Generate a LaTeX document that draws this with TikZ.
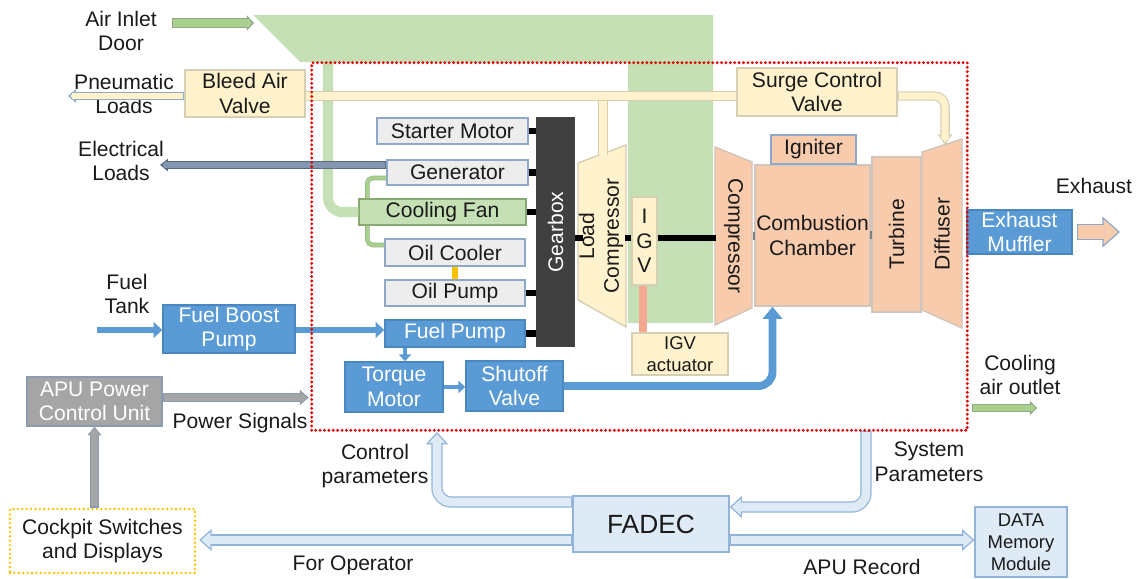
\documentclass[tikz,border=0pt]{standalone}
\usepackage{fontspec}
\setmainfont{Liberation Sans}
\usetikzlibrary{arrows.meta}

\definecolor{txt}{HTML}{1A1A1A}
\definecolor{airgreen}{HTML}{C5E0B4}
\definecolor{fangreen}{HTML}{A9D18E}
\definecolor{bleedyel}{HTML}{FFF2CC}
\definecolor{bleededge}{HTML}{D6CFB4}
\definecolor{partgray}{HTML}{EDEDED}
\definecolor{partedge}{HTML}{8EA9C8}
\definecolor{fuelblue}{HTML}{5B9BD5}
\definecolor{fueledge}{HTML}{4A86BF}
\definecolor{hotpeach}{HTML}{F8CBAD}
\definecolor{peachedge}{HTML}{D0C4BC}
\definecolor{gearblack}{HTML}{404040}
\definecolor{apugray}{HTML}{A5A5A5}
\definecolor{apuedge}{HTML}{8C9BAE}
\definecolor{fadecblue}{HTML}{DEEBF7}
\definecolor{fadecedge}{HTML}{92B4D8}
\definecolor{elecgray}{HTML}{8497B0}
\definecolor{igvred}{HTML}{F4A890}
\definecolor{oilorange}{HTML}{FFC000}
\definecolor{apured}{HTML}{E00000}

\newcommand{\apufont}{\fontsize{12}{14}\selectfont}
\newcommand{\apusmall}{\fontsize{10.5}{12.5}\selectfont}

\tikzset{
    part/.style={draw=partedge,fill=partgray,line width=0.8pt,text=txt,inner sep=0pt,align=center,font=\apufont},
    fuelbox/.style={part,draw=fueledge,fill=fuelblue,text=white},
    yelbox/.style={part,draw=bleededge,fill=bleedyel},
    hotbox/.style={part,draw=peachedge,fill=hotpeach},
    txtlabel/.style={text=txt,align=center,font=\apufont,inner sep=0pt},
    shaft/.style={black,line width=3.5pt},
    pipe/.style={draw=bleededge,double=bleedyel,double distance=4pt,line width=0.6pt},
    greenlink/.style={draw=fangreen!60!gray,double=fangreen,double distance=1.8pt,line width=0.4pt,rounded corners=3pt},
    fuel/.style={fuelblue,line width=3.5pt,-{Triangle[length=5pt,width=9pt]}},
    flow/.style n args={5}{draw=#1,line width=#3,shorten >=0.5*#5,shorten <=0.7pt,
        preaction={draw=#2,line width=#3+1.4pt,shorten >=0pt,shorten <=0pt,
        -{Triangle[length=#5,width=#4,line width=0.7pt,fill=#1]}}},
    bigflow/.style={flow={fadecblue}{fadecedge}{5pt}{12.5pt}{7pt}},
    reddot/.style={draw=apured,line width=1.8pt,line cap=round,dash pattern=on 0pt off 2.5pt}
}

\begin{document}
\begin{tikzpicture}[x=0.02cm,y=-0.02cm]
    \useasboundingbox (0,0) rectangle (1138,578);
    \fill[airgreen] (253,15) -- (713,15) -- (713,323) -- (628,323) -- (628,62) -- (300,62) -- cycle;
    \node[minimum width=13.1cm,minimum height=7.34cm](CORE) at (639.5,246.5){};

    \node[yelbox,minimum width=2.4cm,minimum height=0.94cm](BAV) at (245,93.5){Bleed Air\\Valve};
    \node[yelbox,minimum width=3.2cm,minimum height=0.96cm](SCV) at (817,92){Surge Control\\Valve};
    \node[part,minimum width=3.02cm,minimum height=0.52cm](SM) at (452.5,131){Starter Motor};
    \node[part,minimum width=2.82cm,minimum height=0.5cm](GEN) at (457.5,172.5){Generator};
    \node[part,draw=fangreen!80!black,fill=airgreen,minimum width=3.34cm,minimum height=0.52cm](CF) at (442.5,212){Cooling Fan};
    \node[part,minimum width=2.8cm,minimum height=0.54cm](OC) at (455,252.5){Oil Cooler};
    \node[part,minimum width=2.8cm,minimum height=0.52cm](OP) at (455,293){Oil Pump};
    \node[fuelbox,minimum width=2.8cm,minimum height=0.54cm](FP) at (455,333.5){Fuel Pump};
    \node[part,draw=gearblack,fill=gearblack,text=white,minimum width=0.74cm,minimum height=4.56cm](GB) at (555.5,232){\rotatebox{90}{Gearbox}};

    \filldraw[fill=bleedyel,draw=bleededge,line width=0.8pt] (578,163) -- (626,145) -- (626,327) -- (578,300) -- cycle;
    \node[txtlabel,rotate=90](LC) at (601,236){Load\\Compressor};
    \node[yelbox,minimum width=0.5cm,minimum height=1.76cm](IGV) at (644.5,241){I\\G\\V};
    \node[yelbox,font=\apusmall,minimum width=1.92cm,minimum height=0.84cm](IGVA) at (680,354){IGV\\actuator};

    \filldraw[fill=hotpeach,draw=peachedge,line width=0.8pt] (715,147) -- (752,162) -- (752,308) -- (715,325) -- cycle;
    \node[txtlabel,rotate=-90](CP) at (733.5,236){Compressor};
    \node[hotbox,minimum width=2.3cm,minimum height=2.82cm](CC) at (812.5,235.5){Combustion\\Chamber};
    \node[hotbox,draw=partedge,minimum width=1.7cm,minimum height=0.58cm](IG) at (813.5,149.5){Igniter};
    \node[hotbox,minimum width=0.98cm,minimum height=3.1cm](TB) at (896.5,234.5){\rotatebox{90}{Turbine}};
    \filldraw[fill=hotpeach,draw=peachedge,line width=0.8pt] (922,152) -- (962,139) -- (962,328) -- (922,310) -- cycle;
    \node[txtlabel,rotate=90](DF) at (942,234){Diffuser};
    \node[fuelbox,minimum width=2.1cm,minimum height=0.88cm](EM) at (1019.5,232){Exhaust\\Muffler};

    \node[fuelbox,minimum width=2.64cm,minimum height=0.96cm](FBP) at (229,329){Fuel Boost\\Pump};
    \node[fuelbox,minimum width=1.96cm,minimum height=1cm](TM) at (394,387){Torque\\Motor};
    \node[fuelbox,minimum width=1.94cm,minimum height=1cm](SV) at (514.5,386){Shutoff\\Valve};
    \node[part,draw=apuedge,fill=apugray,text=white,minimum width=2.7cm,minimum height=0.98cm](PCU) at (94.5,401.5){APU Power\\Control Unit};
    \node[txtlabel,draw=oilorange,line width=1.5pt,line cap=round,dash pattern=on 0pt off 2.5pt,minimum width=3.7cm,minimum height=1.28cm](CK) at (102.5,541){Cockpit Switches\\and Displays};
    \node[part,draw=fadecedge,fill=fadecblue,font=\fontsize{15}{18}\selectfont,minimum width=3.12cm,minimum height=1.12cm](FADEC) at (651,524){FADEC};
    \node[part,draw=fadecedge,fill=fadecblue,font=\apusmall,minimum width=1.84cm,minimum height=1.4cm](DMM) at (1021,542){DATA\\Memory\\Module};

    \node[txtlabel](AIR) at (121,31){Air Inlet\\Door};
    \node[txtlabel](PNEU) at (124,94){Pneumatic\\Loads};
    \node[txtlabel](ELEC) at (121,161){Electrical\\Loads};
    \node[txtlabel](TANK) at (127,294){Fuel\\Tank};
    \node[txtlabel](PWR) at (240,423){Power Signals};
    \node[txtlabel](CTRL) at (375,466){Control\\parameters};
    \node[txtlabel](OPR) at (353,565){For Operator};
    \node[txtlabel](REC) at (862,567){APU Record};
    \node[txtlabel](SYS) at (929,462){System\\Parameters};
    \node[txtlabel](COOL) at (1020,375){Cooling\\air outlet};
    \node[txtlabel](EXH) at (1094,186){Exhaust};

    \coordinate (DUCT) at (328,60);
    \coordinate (BLEED) at (603,96);
    \coordinate (LCT) at (603,155);
    \coordinate (DTOP) at (945,145);
    \coordinate (PNL) at (68,96);
    \coordinate (ELL) at (160,165);
    \coordinate (AIN) at (172,23);
    \coordinate (AOUT) at (254,23);
    \coordinate (COIN) at (972,408);
    \coordinate (COOUT) at (1037,408);
    \coordinate (EXO) at (1120,232);
    \coordinate (TK) at (97,330);
    \coordinate (LCW) at (583,238);
    \coordinate (LCE) at (625,238);
    \coordinate (CPW) at (716,238);
    \coordinate (CTL) at (437,432);
    \coordinate (SYSP) at (866,431);

    \draw[airgreen,line width=5.7pt,rounded corners=8pt](DUCT) |- (CF.west);
    \draw[greenlink]([yshift=-0.11cm]GEN.west) -| ([xshift=0.18cm]CF.north west);
    \draw[greenlink]([xshift=0.18cm]CF.south west) |- ([yshift=0.15cm]OC.west);
    \draw[pipe]([yshift=-0.08cm]BLEED) -- (LCT);
    \draw[pipe](BAV.east |- BLEED) -- (SCV.west |- BLEED);
    \draw[flow={bleedyel}{bleededge}{4pt}{8pt}{6pt},rounded corners=6pt](SCV.east |- BLEED) -| (DTOP);
    \draw[flow={bleedyel}{partedge}{3.5pt}{7.5pt}{4.5pt}](BAV.west |- PNL) -- (PNL);
    \draw[flow={elecgray}{elecgray!70!black}{3pt}{7pt}{4.5pt}](GEN.west |- ELL) -- (ELL);
    \draw[flow={fangreen}{fangreen!50!gray}{4pt}{8.5pt}{4pt}](AIN) -- (AOUT);
    \draw[flow={fangreen}{fangreen!50!gray}{3.5pt}{8pt}{4pt}](COIN) -- (COOUT);
    \draw[flow={hotpeach}{partedge}{7.5pt}{17.5pt}{10pt}]([xshift=0.08cm]EM.east) -- (EXO);

    \foreach \n in {SM,GEN,CF,OP,FP}\draw[shaft](\n.east) -- (\n.east -| GB.west);
    \draw[shaft](GB.east |- LCW) -- (LCW);
    \draw[shaft](LCE) -- (IGV.west |- LCE);
    \draw[shaft](IGV.east |- CPW) -- (CPW);
    \draw[gray,line width=1.2pt]([yshift=0.08cm]CC.west) -- ([yshift=-0.08cm]CC.west);
    \draw[gray,line width=1.2pt]([yshift=0.08cm]TB.west) -- ([yshift=-0.08cm]TB.west);
    \draw[oilorange,line width=3pt](OC.south) -- (OP.north);
    \draw[igvred,line width=4pt]([xshift=-0.03cm]IGV.south) -- ([xshift=-0.03cm]IGV.south |- IGVA.north);

    \draw[fuel](TK) -- (TK -| FBP.west);
    \draw[fuel](FBP.east |- TK) -- (TK -| FP.west);
    \draw[fuel,line width=2.5pt,-{Triangle[length=4pt,width=7pt]}]([xshift=-1cm]FP.south) -- ([xshift=-1cm]FP.south |- TM.north);
    \draw[fuel,line width=2.5pt,-{Triangle[length=4pt,width=7pt]}](TM.east) -- (TM.east -| SV.west);
    \draw[fuel,line width=4.5pt,rounded corners=8pt,-{Triangle[length=7pt,width=11pt]}](SV.east) -| ([xshift=-0.8cm]CC.south);

    \draw[flow={apugray}{apuedge}{4pt}{8.5pt}{5pt}]([yshift=0.08cm]PCU.east) -- ([yshift=0.08cm,xshift=-0.06cm]PCU.east -| CORE.west);
    \draw[flow={apugray}{apuedge}{3.5pt}{8pt}{5pt}](PCU.south |- CK.north) -- (PCU.south);

    \draw[bigflow,rounded corners=8pt]([yshift=0.44cm]FADEC.west) -| (CTL);
    \draw[bigflow,rounded corners=8pt](SYSP) |- ([yshift=0.34cm]FADEC.east);
    \draw[bigflow]([yshift=-0.32cm]FADEC.west) -- ([yshift=-0.32cm,xshift=0.06cm]FADEC.west -| CK.east);
    \draw[bigflow]([yshift=-0.32cm]FADEC.east) -- ([yshift=-0.32cm]FADEC.east -| DMM.west);

    \draw[reddot](CORE.south west) rectangle (CORE.north east);
\end{tikzpicture}
\end{document}
